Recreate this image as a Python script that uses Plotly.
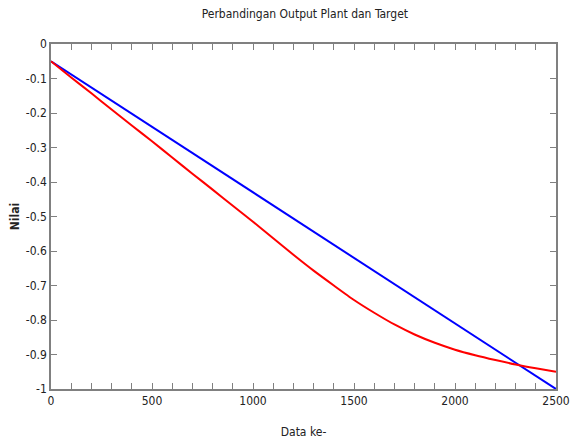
import plotly.graph_objects as go

# Data
target_x = [0, 2500]
target_y = [-0.05, -1.0]

plant_x = [0, 100, 200, 300, 400, 500, 600, 700, 800, 900, 1000, 1100, 1200, 1300,
           1400, 1500, 1600, 1700, 1800, 1900, 2000, 2100, 2200, 2300, 2400, 2500]
plant_y = [-0.05, -0.097, -0.143, -0.190, -0.236, -0.282, -0.329, -0.376, -0.422,
           -0.469, -0.515, -0.563, -0.611, -0.657, -0.700, -0.742, -0.779, -0.813,
           -0.842, -0.866, -0.886, -0.902, -0.916, -0.929, -0.940, -0.950]

x_tickvals = list(range(0, 2501, 100))
x_ticktext = [str(v) if v % 500 == 0 else "" for v in x_tickvals]
y_tickvals = [-1.0, -0.9, -0.8, -0.7, -0.6, -0.5, -0.4, -0.3, -0.2, -0.1, 0.0]
y_ticktext = ["-1", "-0.9", "-0.8", "-0.7", "-0.6", "-0.5", "-0.4", "-0.3", "-0.2", "-0.1", "0"]

FONT = "DejaVu Sans Condensed, Liberation Sans Narrow, Arial Narrow, Liberation Sans, sans-serif"

fig = go.Figure()
fig.add_trace(go.Scatter(x=target_x, y=target_y, mode="lines",
                         line=dict(color="#0000ff", width=2), showlegend=False))
fig.add_trace(go.Scatter(x=plant_x, y=plant_y, mode="lines", line_shape="spline",
                         line=dict(color="#ff0000", width=2, smoothing=0.6), showlegend=False))

axis_common = dict(showgrid=False, zeroline=False, showline=True, linecolor="#808080",
                   linewidth=1.5, mirror="ticks", ticks="inside", ticklen=6,
                   tickcolor="#808080", tickwidth=1, automargin=False,
                   ticklabeloverflow="allow",
                   tickfont=dict(family=FONT, size=12, color="#222222"))

fig.update_layout(
    width=572, height=443,
    margin=dict(l=51, r=16, t=44, b=54, autoexpand=False),
    paper_bgcolor="white", plot_bgcolor="white",
    title=dict(text="Perbandingan Output Plant dan Target", x=0.533, xanchor="center",
               y=0.968, yanchor="middle",
               font=dict(family=FONT, size=12, color="#222222")),
    xaxis=dict(range=[0, 2500], tickvals=x_tickvals, ticktext=x_ticktext,
               title=dict(text="Data ke-", standoff=20,
                          font=dict(family=FONT, size=12, color="#222222")),
               **axis_common),
    yaxis=dict(range=[-1, 0], tickvals=y_tickvals, ticktext=y_ticktext,
               title=dict(text="<b>Nilai</b>", standoff=4,
                          font=dict(family=FONT, size=12, color="#222222")),
               **axis_common),
)

fig.write_html("out.html", config={"displayModeBar": False},
               post_script="document.body.style.margin='0';document.body.style.overflow='hidden';")
